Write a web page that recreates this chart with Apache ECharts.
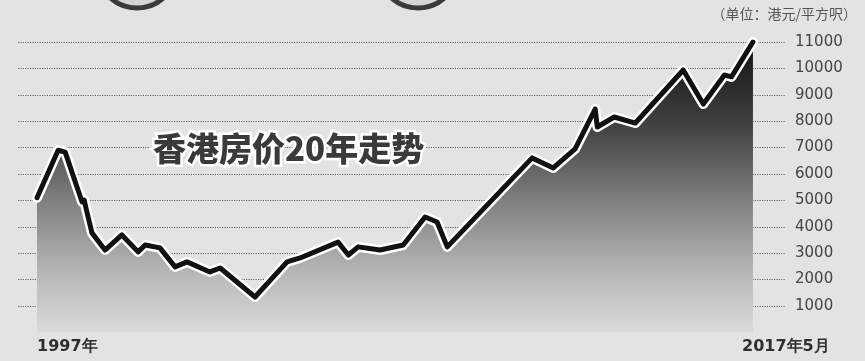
<!DOCTYPE html>
<html>
<head>
<meta charset="utf-8">
<script src="https://cdn.jsdelivr.net/npm/echarts@6/dist/echarts.min.js"></script>
<style>
html,body{margin:0;padding:0;background:#e3e3e3;}
#c{width:865px;height:361px;}
</style>
</head>
<body>
<div id="c"></div>
<script>
// Time (fractional year) and price (HK$ per sq ft)
const years = [1997.0, 1997.6, 1997.8, 1998.28, 1998.34, 1998.39, 1998.56, 1998.93, 1999.41, 1999.87,
  2000.07, 2000.49, 2000.92, 2001.26, 2001.91, 2002.20, 2003.19, 2004.10, 2004.47, 2005.55,
  2005.84, 2006.12, 2006.74, 2007.40, 2008.02, 2008.36, 2008.65, 2011.06, 2011.66, 2012.28,
  2012.85, 2012.91, 2013.39, 2013.99, 2015.35, 2015.92, 2016.52, 2016.72, 2017.33];
const prices = [5100, 6900, 6830, 4940, 5010, 4710, 3770, 3120, 3690, 3050,
  3310, 3200, 2480, 2670, 2290, 2440, 1340, 2670, 2820, 3420,
  2930, 3240, 3120, 3310, 4370, 4180, 3240, 6610, 6230, 6950,
  8460, 7780, 8160, 7930, 9940, 8650, 9750, 9680, 11000];
const xLabelValues = [1997, 2017.02];
const xLabelTexts = ['1997年', '2017年5月'];
const title = '香港房价20年走势';
const unitText = '（单位：港元/平方呎）';

const data = years.map((y, i) => [y, prices[i]]);

const chart = echarts.init(document.getElementById('c'));
chart.setOption({
  backgroundColor: '#e3e3e3',
  animation: false,
  grid: { left: 18, right: 80, top: 42, bottom: 28.6 },
  xAxis: {
    type: 'value', min: 1996.46, max: 2018.24,
    axisLine: { show: false }, axisTick: { show: false }, splitLine: { show: false },
    axisLabel: {
      customValues: xLabelValues,
      formatter: function (v) {
        let best = 0;
        xLabelValues.forEach((x, i) => { if (Math.abs(x - v) < Math.abs(xLabelValues[best] - v)) best = i; });
        return xLabelTexts[best];
      },
      align: 'left', margin: 6,
      color: '#2e2e2e', fontSize: 16, fontWeight: 'bold', fontFamily: 'DejaVu Sans'
    }
  },
  yAxis: {
    type: 'value', position: 'right', min: 0, max: 11000, interval: 1000,
    axisLine: { show: false }, axisTick: { show: false },
    splitLine: { show: true, showMinLine: false, lineStyle: { type: 'dotted', color: '#666', width: 1.2 } },
    axisLabel: {
      margin: 10, color: '#444', fontSize: 15, fontFamily: 'DejaVu Sans',
      formatter: v => v === 0 ? '' : String(v)
    }
  },
  series: [
    {
      type: 'line', data: data, symbol: 'none', z: 2,
      lineStyle: { color: '#ffffff', width: 10, join: 'round', cap: 'round' },
      areaStyle: {
        color: new echarts.graphic.LinearGradient(0, 0, 0, 1, [
          { offset: 0, color: '#111111' },
          { offset: 0.3, color: '#444444' },
          { offset: 0.55, color: '#808080' },
          { offset: 0.8, color: '#b8b8b8' },
          { offset: 1, color: '#dadada' }
        ]),
        opacity: 1
      }
    },
    {
      type: 'line', data: data, symbol: 'none', z: 3,
      lineStyle: { color: '#111111', width: 5, join: 'round', cap: 'round' }
    }
  ],
  graphic: [
    { type: 'circle', shape: { cx: 137, cy: -32, r: 40 }, style: { fill: '#d5d5d5', stroke: '#3a3a3a', lineWidth: 5 }, silent: true },
    { type: 'circle', shape: { cx: 418, cy: -32, r: 40 }, style: { fill: '#d5d5d5', stroke: '#3a3a3a', lineWidth: 5 }, silent: true },
    {
      type: 'text', x: 153, y: 148, z: 10,
      style: {
        text: title, fill: '#3a3a3a', font: '900 33px "Noto Sans CJK SC"',
        textVerticalAlign: 'middle', stroke: '#ffffff', lineWidth: 5
      }
    },
    {
      type: 'text', x: 857, y: 14, z: 10,
      style: {
        text: unitText, fill: '#555', font: '14px "Noto Sans CJK SC"',
        textAlign: 'right', textVerticalAlign: 'middle'
      }
    }
  ]
});
</script>
</body>
</html>
